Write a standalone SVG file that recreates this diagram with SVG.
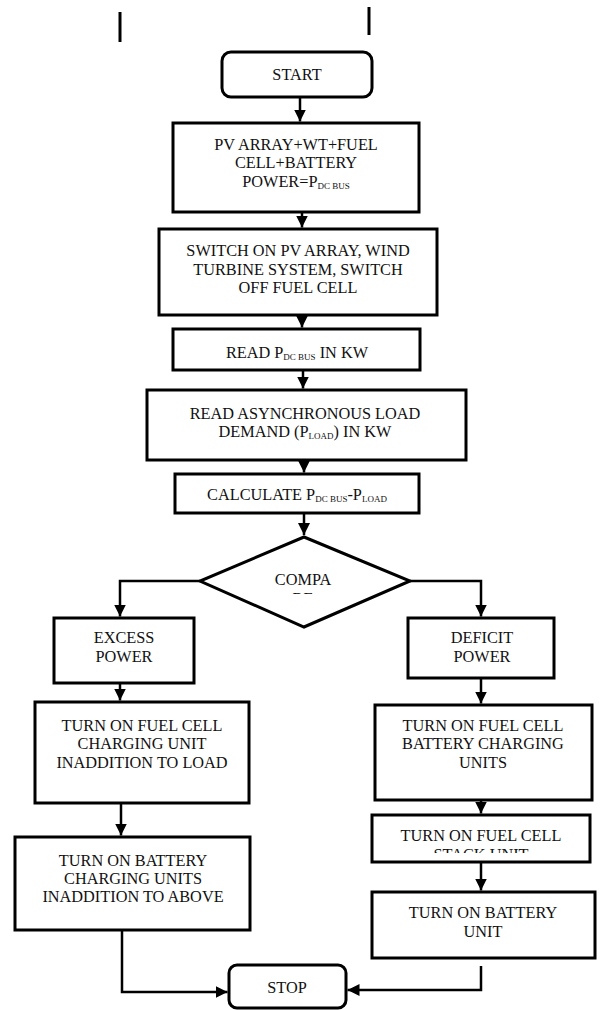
<svg xmlns="http://www.w3.org/2000/svg" width="603" height="1010" viewBox="0 0 603 1010" font-family="'Liberation Serif', 'Times New Roman', serif">
<style>
.box{fill:#fff;stroke:#000;stroke-width:3}
.t{font-family:'Liberation Serif','Times New Roman',serif;font-size:16.3px;fill:#111;text-anchor:middle}
.s{font-size:9px}
.c{fill:none;stroke:#000;stroke-width:2.5}
.mk{fill:none;stroke:#000;stroke-width:3}
</style>
<defs>
<marker id="ah" viewBox="0 0 10 10" refX="10" refY="5" markerWidth="12" markerHeight="12" markerUnits="userSpaceOnUse" orient="auto">
<path d="M0,0 L10,5 L0,10 z" fill="#000"/>
</marker>
<clipPath id="clipD"><rect x="200" y="560" width="210" height="34"/></clipPath>
<clipPath id="clipR2"><rect x="372" y="815" width="218" height="38"/></clipPath>
</defs>
<g id="marks">
<line class="mk" x1="120" y1="12" x2="120" y2="42"/>
<line class="mk" x1="369" y1="7" x2="369" y2="35"/>
</g>
<g id="connectors">
<line class="c" x1="300" y1="97" x2="300" y2="121.5" marker-end="url(#ah)"/>
<line class="c" x1="302" y1="212" x2="302" y2="227.5" marker-end="url(#ah)"/>
<line class="c" x1="302" y1="315" x2="302" y2="327.5" marker-end="url(#ah)"/>
<line class="c" x1="303" y1="370" x2="303" y2="388.5" marker-end="url(#ah)"/>
<line class="c" x1="304" y1="460" x2="304" y2="472.5" marker-end="url(#ah)"/>
<line class="c" x1="304" y1="513" x2="304" y2="535" marker-end="url(#ah)"/>
<path class="c" d="M200,581 H120 V616.5" marker-end="url(#ah)"/>
<path class="c" d="M410,581 H481 V616.5" marker-end="url(#ah)"/>
<line class="c" x1="120" y1="683" x2="120" y2="700.5" marker-end="url(#ah)"/>
<line class="c" x1="481" y1="678" x2="481" y2="703.5" marker-end="url(#ah)"/>
<line class="c" x1="121" y1="803" x2="121" y2="835.5" marker-end="url(#ah)"/>
<line class="c" x1="481" y1="800" x2="481" y2="813.5" marker-end="url(#ah)"/>
<line class="c" x1="481" y1="862" x2="481" y2="890.5" marker-end="url(#ah)"/>
<path class="c" d="M122,930 V992 H227.5" marker-end="url(#ah)"/>
<path class="c" d="M481,966 V990 H347.5" marker-end="url(#ah)"/>
</g>
<g id="start">
<rect class="box" x="222" y="52" width="150" height="45" rx="9"/>
<text class="t" x="297" y="80">START</text>
</g>
<g id="sum">
<rect class="box" x="173" y="123" width="246" height="89"/>
<text class="t" x="296" y="150">PV ARRAY+WT+FUEL</text>
<text class="t" x="296" y="168">CELL+BATTERY</text>
<text class="t" x="296" y="187">POWER=P<tspan class="s" dy="1.5">DC BUS</tspan></text>
</g>
<g id="switch">
<rect class="box" x="159" y="229" width="278" height="86"/>
<text class="t" x="298" y="256">SWITCH ON PV ARRAY, WIND</text>
<text class="t" x="298" y="275">TURBINE SYSTEM, SWITCH</text>
<text class="t" x="298" y="293">OFF FUEL CELL</text>
</g>
<g id="readbus">
<rect class="box" x="173" y="329" width="247" height="41"/>
<text class="t" x="297" y="358">READ P<tspan class="s" dy="1.5">DC BUS</tspan><tspan dy="-1.5"> IN KW</tspan></text>
</g>
<g id="readload">
<rect class="box" x="147" y="390" width="319" height="70"/>
<text class="t" x="305" y="419">READ ASYNCHRONOUS LOAD</text>
<text class="t" x="305" y="437">DEMAND (P<tspan class="s" dy="1.5">LOAD</tspan><tspan dy="-1.5">) IN KW</tspan></text>
</g>
<g id="calc">
<rect class="box" x="175" y="474" width="244" height="39"/>
<text class="t" x="297" y="500">CALCULATE P<tspan class="s" dy="1.5">DC BUS</tspan><tspan dy="-1.5">-P</tspan><tspan class="s" dy="1.5">LOAD</tspan></text>
</g>
<g id="compare">
<polygon class="box" points="304,537 410,581 304,627 200,581"/>
<g clip-path="url(#clipD)">
<text class="t" x="303" y="585">COMPA</text>
<text class="t" x="303" y="604">RE</text>
</g>
</g>
<g id="excess">
<rect class="box" x="54" y="618" width="140" height="65"/>
<text class="t" x="124" y="643">EXCESS</text>
<text class="t" x="124" y="662">POWER</text>
</g>
<g id="deficit">
<rect class="box" x="408" y="618" width="146" height="60"/>
<text class="t" x="482" y="643">DEFICIT</text>
<text class="t" x="482" y="662">POWER</text>
</g>
<g id="fcCharge">
<rect class="box" x="35" y="702" width="214" height="101"/>
<text class="t" x="142" y="731">TURN ON FUEL CELL</text>
<text class="t" x="142" y="749">CHARGING UNIT</text>
<text class="t" x="142" y="768">INADDITION TO LOAD</text>
</g>
<g id="fcBattery">
<rect class="box" x="375" y="705" width="217" height="95"/>
<text class="t" x="483" y="731">TURN ON FUEL CELL</text>
<text class="t" x="483" y="749">BATTERY CHARGING</text>
<text class="t" x="483" y="768">UNITS</text>
</g>
<g id="batteryCharge">
<rect class="box" x="15" y="837" width="235" height="93"/>
<text class="t" x="133" y="866">TURN ON BATTERY</text>
<text class="t" x="133" y="884">CHARGING UNITS</text>
<text class="t" x="133" y="902">INADDITION TO ABOVE</text>
</g>
<g id="fcStack">
<rect class="box" x="372" y="815" width="218" height="47"/>
<g clip-path="url(#clipR2)">
<text class="t" x="481" y="841">TURN ON FUEL CELL</text>
<text class="t" x="481" y="860">STACK UNIT</text>
</g>
</g>
<g id="batteryUnit">
<rect class="box" x="372" y="892" width="223" height="66"/>
<text class="t" x="483" y="918">TURN ON BATTERY</text>
<text class="t" x="483" y="937">UNIT</text>
</g>
<g id="stop">
<rect class="box" x="229" y="965" width="117" height="43" rx="8"/>
<text class="t" x="287" y="993">STOP</text>
</g>
</svg>
